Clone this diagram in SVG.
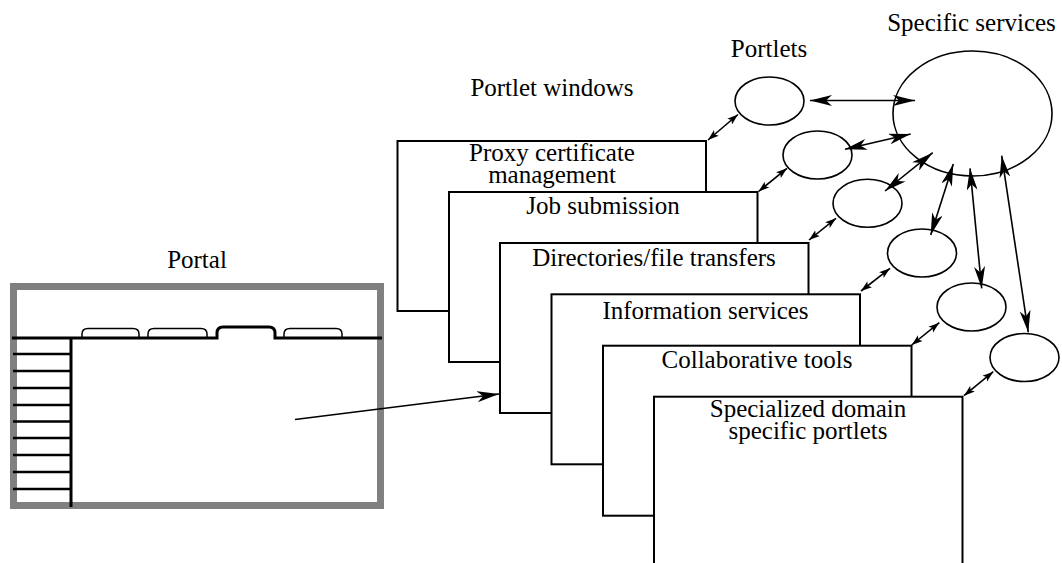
<svg xmlns="http://www.w3.org/2000/svg" width="1062" height="563" viewBox="0 0 1062 563">
  <style>
    .lbl { font-family: "Liberation Serif", "Times New Roman", serif; font-size: 25px; fill: #000; text-anchor: middle; }
    .win { fill: #fff; stroke: #000; stroke-width: 2; }
    .oval { fill: #fff; stroke: #000; stroke-width: 1.6; }
    .thick { fill: none; stroke: #000; stroke-width: 3; }
    .tab { fill: #fff; stroke: #000; stroke-width: 1.5; }
    .link { fill: none; stroke: #000; stroke-width: 1.6; }
    .big { marker-start: url(#headBig); marker-end: url(#headBig); }
    .small { marker-start: url(#headSmall); marker-end: url(#headSmall); }
  </style>
  <defs>
    <marker id="headBig" viewBox="0 0 22 11" refX="22" refY="5.5" markerWidth="22" markerHeight="11" orient="auto-start-reverse" markerUnits="userSpaceOnUse">
      <path d="M0,0 L22,5.5 L0,11 L6,5.5 Z" fill="#000"/>
    </marker>
    <marker id="headSmall" viewBox="0 0 11 8" refX="11" refY="4" markerWidth="11" markerHeight="8" orient="auto-start-reverse" markerUnits="userSpaceOnUse">
      <path d="M0,0.3 L11,4 L0,7.7 L2.5,4 Z" fill="#000"/>
    </marker>
    <marker id="headOne" viewBox="0 0 22 11" refX="22" refY="5.5" markerWidth="22" markerHeight="11" orient="auto" markerUnits="userSpaceOnUse">
      <path d="M0,0 L22,5.5 L0,11 L6,5.5 Z" fill="#000"/>
    </marker>
  </defs>

  <!-- Portal screen -->
  <g id="portal">
    <text class="lbl" x="197" y="268">Portal</text>
    <rect x="13.5" y="286.5" width="367" height="219" fill="#fff" stroke="#808080" stroke-width="7"/>
    <path class="tab" d="M82,338 V334 Q82,328.5 88,328.5 H133 Q139,328.5 139,334 V338"/>
    <path class="tab" d="M148,338 V334 Q148,328.5 154,328.5 H201 Q207,328.5 207,334 V338"/>
    <path class="tab" d="M284,338 V334 Q284,328.5 290,328.5 H336 Q342,328.5 342,334 V338"/>
    <path class="thick" d="M12,338 H217 V333 Q217,327 223,327 H269 Q275,327 275,333 V338 H382"/>
    <path class="thick" d="M71,338 V507"/>
    <g stroke="#000" stroke-width="2.5">
      <line x1="13" y1="354" x2="70" y2="354"/>
      <line x1="13" y1="371" x2="70" y2="371"/>
      <line x1="13" y1="388" x2="70" y2="388"/>
      <line x1="13" y1="405" x2="70" y2="405"/>
      <line x1="13" y1="421.5" x2="70" y2="421.5"/>
      <line x1="13" y1="438" x2="70" y2="438"/>
      <line x1="13" y1="455" x2="70" y2="455"/>
      <line x1="13" y1="472" x2="70" y2="472"/>
      <line x1="13" y1="489" x2="70" y2="489"/>
    </g>
  </g>

  <!-- Portlet windows, back to front -->
  <text class="lbl" x="552" y="96">Portlet windows</text>
  <g id="win-proxy">
    <rect class="win" x="397.5" y="141" width="308.5" height="170"/>
    <text class="lbl" x="552" y="161">Proxy certificate</text>
    <text class="lbl" x="552" y="183">management</text>
  </g>
  <g id="win-job">
    <rect class="win" x="449" y="192" width="308.5" height="170"/>
    <text class="lbl" x="603" y="214">Job submission</text>
  </g>
  <g id="win-dirs">
    <rect class="win" x="500" y="243" width="308.5" height="170"/>
    <text class="lbl" x="654" y="266">Directories/file transfers</text>
  </g>
  <g id="win-info">
    <rect class="win" x="551.5" y="294.3" width="308.5" height="170"/>
    <text class="lbl" x="705.5" y="319">Information services</text>
  </g>
  <g id="win-collab">
    <rect class="win" x="603" y="345.7" width="308.5" height="170"/>
    <text class="lbl" x="757" y="368">Collaborative tools</text>
  </g>
  <g id="win-special">
    <rect class="win" x="654" y="396.7" width="308.5" height="180"/>
    <text class="lbl" x="808" y="416.5">Specialized domain</text>
    <text class="lbl" x="808" y="438.5">specific portlets</text>
  </g>

  <!-- Portlets -->
  <text class="lbl" x="769" y="57">Portlets</text>
  <g id="portlet-1"><ellipse class="oval" cx="769.5" cy="101" rx="34.5" ry="24"/></g>
  <g id="portlet-2"><ellipse class="oval" cx="817.5" cy="155" rx="34.5" ry="24"/></g>
  <g id="portlet-3"><ellipse class="oval" cx="867.5" cy="203.3" rx="34.5" ry="24"/></g>
  <g id="portlet-4"><ellipse class="oval" cx="922" cy="253" rx="34.5" ry="24"/></g>
  <g id="portlet-5"><ellipse class="oval" cx="971.5" cy="307" rx="34.5" ry="24"/></g>
  <g id="portlet-6"><ellipse class="oval" cx="1024.5" cy="357.5" rx="34.5" ry="24"/></g>

  <!-- Specific services -->
  <g id="services">
    <text class="lbl" x="971.5" y="31">Specific services</text>
    <ellipse class="oval" cx="972.5" cy="113.5" rx="79.5" ry="62.5"/>
  </g>

  <!-- Connectors -->
  <g id="connectors">
    <line class="link" x1="295" y1="419.5" x2="499" y2="394" marker-end="url(#headOne)"/>

    <line class="link small" x1="708" y1="140" x2="738" y2="114.5"/>
    <line class="link small" x1="758.5" y1="191.5" x2="787" y2="168.3"/>
    <line class="link small" x1="809" y1="240" x2="836" y2="218.3"/>
    <line class="link small" x1="861" y1="291" x2="890" y2="268.3"/>
    <line class="link small" x1="911.7" y1="345" x2="939.3" y2="322.7"/>
    <line class="link small" x1="964" y1="395.7" x2="993.3" y2="371.7"/>

    <line class="link big" x1="810" y1="100.5" x2="915" y2="100.5"/>
    <line class="link big" x1="845" y1="149.3" x2="910.7" y2="134"/>
    <line class="link big" x1="885" y1="191" x2="932.7" y2="152.7"/>
    <line class="link big" x1="930.7" y1="235" x2="953.3" y2="164"/>
    <line class="link big" x1="981.7" y1="288.3" x2="970" y2="168.3"/>
    <line class="link big" x1="1028.3" y1="332.3" x2="1001.7" y2="155.7"/>
  </g>
</svg>
